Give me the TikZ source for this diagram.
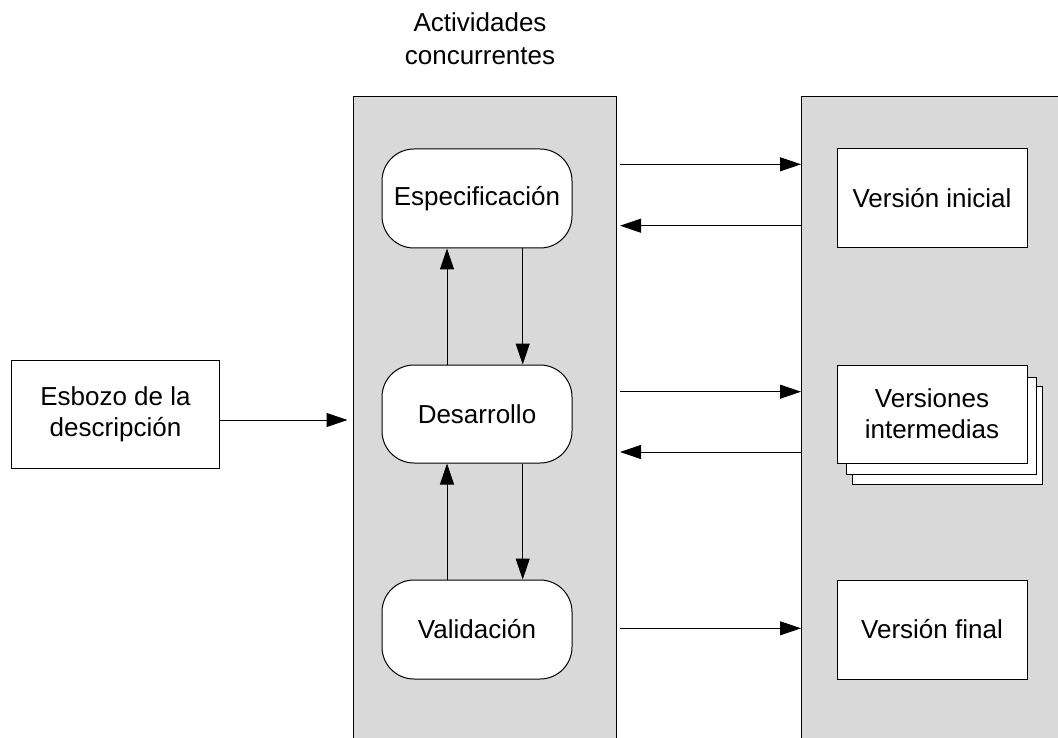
\documentclass[tikz,border=0pt]{standalone}
\usepackage{fontspec}
\setmainfont{Liberation Sans}
\usetikzlibrary{arrows.meta}
\definecolor{panelgray}{RGB}{217,217,217}
\begin{document}
\begin{tikzpicture}[x=1pt,y=-1pt,
  lbl/.style={font=\fontsize{26}{31}\selectfont, align=center, inner sep=0pt},
  panel/.style={draw=black, fill=panelgray, line width=1pt, inner sep=0pt, anchor=north west},
  activity/.style={lbl, draw=black, fill=white, line width=1pt, rounded corners=32pt,
                   minimum width=190pt, minimum height=99pt},
  doc/.style={lbl, draw=black, fill=white, line width=1pt,
              minimum width=190pt, minimum height=99pt},
  arr/.style={line width=1pt, -{Triangle[length=21pt,width=14pt]}}
]
\useasboundingbox (0,0) rectangle (1058,738);
\clip (0,0) rectangle (1058,738);

% the two shaded columns
\node[panel, minimum width=263pt, minimum height=680pt] (lp) at (352.5,96) {};
\node[panel, minimum width=290pt, minimum height=680pt] (rp) at (801,96) {};

% heading of the activities column
\node[lbl, font=\fontsize{26}{32.5}\selectfont] (title) at (480,38.5) {Actividades\\concurrentes};

% input
\node[doc, minimum width=207.6pt, minimum height=107.6pt] (esb) at (115.5,414.5) {Esbozo de la\\descripción};

% concurrent activities
\node[activity] (esp) at (477,198.5) {Especificación};
\node[activity, minimum height=98pt] (des) at (477,414) {Desarrollo};
\node[activity] (val) at (477,629.5) {Validación};

% resulting versions
\node[doc] (vini) at (932,198.5) {Versión inicial};
\node[doc, minimum height=98pt] (vint3) at (947.7,435) {};
\node[doc, minimum height=97pt] (vint2) at (941.5,425.5) {};
\node[doc, minimum height=98pt] (vint) at (932,414) {Versiones\\intermedias};
\node[doc] (vfin) at (932,629.5) {Versión final};

% rows of the exchange arrows
\coordinate (r1) at (0,164.3);
\coordinate (l1) at (0,225.7);
\coordinate (r2) at (0,391.7);
\coordinate (l2) at (0,452);
\coordinate (r3) at (0,628.3);

% input into the activities
\draw[arr, shorten >=5pt] ([yshift=-5.5pt]esb.east) -- ([yshift=-5.5pt]esb.east -| lp.west);

% activities <-> versions
\draw[arr, shorten <=3pt] (lp.east |- r1) -- (rp.west |- r1);
\draw[arr, shorten >=3.5pt] (rp.west |- l1) -- (lp.east |- l1);
\draw[arr, shorten <=3pt] (lp.east |- r2) -- (rp.west |- r2);
\draw[arr, shorten >=3.5pt] (rp.west |- l2) -- (lp.east |- l2);
\draw[arr, shorten <=3pt] (lp.east |- r3) -- (rp.west |- r3);

% feedback between activities
\draw[arr] ([xshift=-30pt]des.north) -- ([xshift=-30pt]esp.south);
\draw[arr] ([xshift=45.7pt]esp.south) -- ([xshift=45.7pt]des.north);
\draw[arr] ([xshift=-30pt]val.north) -- ([xshift=-30pt]des.south);
\draw[arr] ([xshift=45.7pt]des.south) -- ([xshift=45.7pt]val.north);
\end{tikzpicture}
\end{document}
